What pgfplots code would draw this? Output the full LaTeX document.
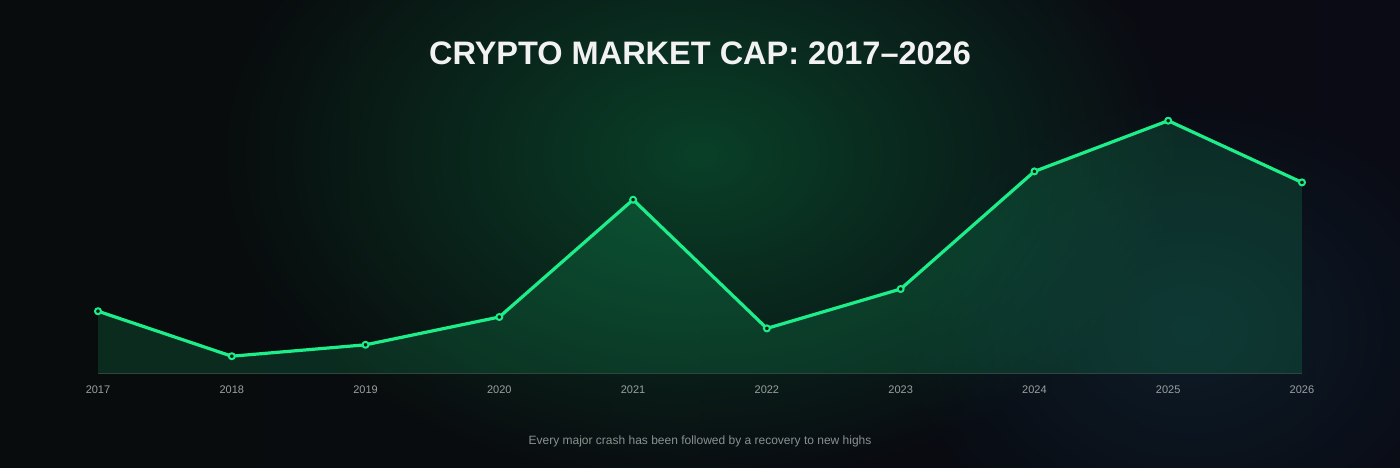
\documentclass[border=0pt]{standalone}
\usepackage{pgfplots}
\pgfplotsset{compat=1.18}
\usepackage{fontspec}
\setmainfont{Liberation Sans}
\usetikzlibrary{fadings}
\definecolor{bgl}{HTML}{080C0C}
\definecolor{bgr}{HTML}{0A0B14}
\definecolor{glowg}{HTML}{0A4028}
\definecolor{glowb}{HTML}{14485E}
\definecolor{linec}{HTML}{1DEE8A}
\definecolor{markfill}{HTML}{0A1E16}
\definecolor{tickc}{HTML}{9AA0A0}
\definecolor{subc}{HTML}{8A9191}
\definecolor{basec}{HTML}{34403C}
\tikzfading[name=glowfade, inner color=transparent!0, outer color=transparent!100]
\begin{document}
\begin{tikzpicture}[x=1pt,y=1pt]
\useasboundingbox (0,0) rectangle (1400,467);
\clip (-3,-3) rectangle (1403,470);
\shade[left color=bgl, right color=bgr] (-3,-3) rectangle (1403,470);
\fill[glowg, path fading=glowfade] (700,312) ellipse (480 and 330);
\fill[glowb, opacity=0.28, path fading=glowfade] (1190,137) ellipse (300 and 240);
\begin{axis}[
  at={(98pt,94pt)}, anchor=south west,
  scale only axis, width=1204pt, height=300pt,
  xmin=0, xmax=9, ymin=0, ymax=300,
  clip=false,
  hide y axis,
  axis x line=bottom,
  x axis line style={-, draw=basec, line width=1pt},
  xtick={0,1,2,3,4,5,6,7,8,9},
  xticklabels={2017,2018,2019,2020,2021,2022,2023,2024,2025,2026},
  major tick length=0pt,
  xtick style={draw=none},
  xticklabel style={font=\fontsize{11}{13}\selectfont, text=tickc, yshift=-9.5pt},
]
\addplot[draw=none, fill=linec, fill opacity=0.14] coordinates {
(0,61.8) (1,16.8) (2,28.2) (3,56) (4,173.3) (5,44.6) (6,84) (7,201.6) (8,252.3) (9,190.6)
} \closedcycle;
\addplot[linec, line width=3.2pt, line join=round, mark=*, mark size=3pt,
  mark options={fill=markfill, draw=linec, line width=2pt}] coordinates {
(0,61.8) (1,16.8) (2,28.2) (3,56) (4,173.3) (5,44.6) (6,84) (7,201.6) (8,252.3) (9,190.6)
};
\end{axis}
\node[font=\bfseries\fontsize{32.5}{39}\selectfont, text=white!95!black] at (700,414) {CRYPTO MARKET CAP: 2017--2026};
\node[font=\fontsize{12}{14}\selectfont, text=subc] at (700,26) {Every major crash has been followed by a recovery to new highs};
\end{tikzpicture}
\end{document}
